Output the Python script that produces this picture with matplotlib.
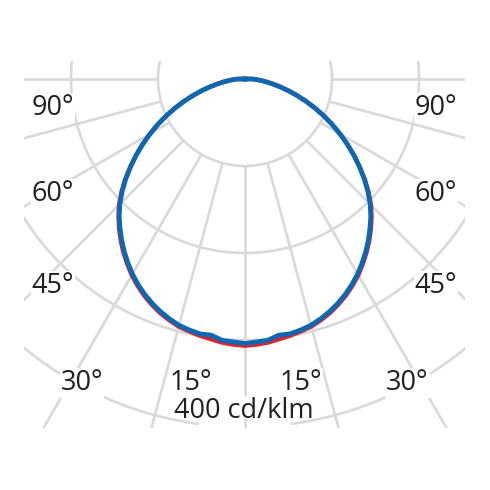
import numpy as np
import matplotlib
matplotlib.use("Agg")
import matplotlib.pyplot as plt
from matplotlib.patches import Rectangle, Circle, Arc

# ---- data (cd/klm) ----
gamma = [0, 2.5, 5, 7.5, 10, 12.5, 15, 17.5, 20, 22.5, 25, 27.5, 30, 32.5,
         35, 37.5, 40, 42.5, 45, 47.5, 50, 52.5, 55, 57.5, 60, 62.5, 65,
         67.5, 70, 72.5, 75, 77.5, 80, 82.5, 85, 87.5, 90]
c0_180 = [306.5, 305.5, 304, 301.5, 299.5, 297, 294.5, 290.5, 286, 280.5,
          274.5, 267.7, 260.3, 252, 243.5, 234.5, 225, 215.2, 204.7, 192.6,
          179.8, 166, 152.8, 139.4, 126, 112.8, 99.7, 86.8, 74.3, 62.3, 51.1,
          40.9, 31.9, 24.2, 17.8, 12.6, 8.5]                      # red
c90_270 = [304, 302.5, 301.5, 297, 297.5, 295.5, 293, 289, 284.4, 279,
           273, 266.2, 258.8, 250.6, 242, 233, 223.5, 214, 203.5, 191.6,
           179, 166, 152.8, 139.4, 126, 112.8, 99.7, 86.8, 74.3, 62.3, 51.1,
           40.9, 31.9, 24.2, 17.8, 12.6, 8.5]                      # blue

rings = [100, 200, 300, 400]
spoke_angles = [-90, -75, -60, -45, -30, -15, 0, 15, 30, 45, 60, 75, 90]

angle_labels = ["90°", "60°", "45°", "30°", "15°", "15°", "30°", "45°", "60°", "90°"]
unit_label = "400 cd/klm"

# ---- layout (pixels) ----
W = H = 490
K = 0.87          # px per cd/klm
CX, CY = 245, 79  # pole position in pixels

def px(x, y):
    return ((x - CX) / K, (CY - y) / K)

fig = plt.figure(figsize=(4.9, 4.9), dpi=100)
ax = fig.add_axes([0, 0, 1, 1])
ax.set_xlim(-CX / K, (W - CX) / K)
ax.set_ylim((CY - H) / K, CY / K)
ax.axis("off")

grid_c = "#d9d9d9"
grid_lw = 1.9

x0, y0 = px(24, 427.5)
clip = Rectangle((x0, y0), (465 - 24) / K, (427.5 - 61.5) / K,
                 transform=ax.transData, fill=False, lw=0)
ax.add_patch(clip)
clip.set_visible(False)

# rings
for r in rings:
    if r == 400:
        p = Arc((0, 0), 2 * r, 2 * r, theta1=-82.4, theta2=262.4,
                ec=grid_c, lw=grid_lw, zorder=1)
    else:
        p = Circle((0, 0), r, fill=False, ec=grid_c, lw=grid_lw, zorder=1)
    ax.add_patch(p)
    p.set_clip_path(clip)

# spokes
for a in spoke_angles:
    t = np.radians(a)
    rr = np.array([rings[0], 800])
    ln, = ax.plot(rr * np.sin(t), -rr * np.cos(t), color=grid_c, lw=grid_lw,
                  solid_capstyle="butt", zorder=1)
    ln.set_clip_path(clip)

# labels
label_pos = [(52.7, 115), (52.7, 201), (52.7, 293), (82, 390), (191, 390),
             (301, 390), (407.5, 390), (436, 293), (436, 201), (436, 115)]
tkw = dict(ha="center", va="baseline", fontsize=19.5, family="Open Sans",
           color="#231f20", zorder=2)
for s, (x, y) in zip(angle_labels, label_pos):
    ax.text(*px(x, y), s, bbox=dict(fc="white", ec="none", pad=0.5), **tkw)

# unit label with a white backing strip that stops at the baseline
bx, by = px(175, 419)
ax.add_patch(Rectangle((bx, by), (312 - 175) / K, (419 - 396) / K,
                       fc="white", ec="none", zorder=1.5))
ax.text(*px(243.5, 418), unit_label, **tkw)

# curves
def closed(vals):
    g = np.radians(np.concatenate([-np.array(gamma[::-1]), np.array(gamma[1:])]))
    r = np.concatenate([np.array(vals[::-1]), np.array(vals[1:])])
    x = r * np.sin(g)
    y = -r * np.cos(g)
    x = np.concatenate([[0], x, [0]])
    y = np.concatenate([[0], y, [0]])
    return x, y

xr, yr = closed(c0_180)
xb, yb = closed(c90_270)
ax.plot(xr, yr, color="#e3202b", lw=3.2, zorder=3, solid_joinstyle="round")
ax.plot(xb, yb, color="#0b68b2", lw=3.4, zorder=4, solid_joinstyle="round")

fig.savefig("out.png", dpi=100, facecolor="white")
